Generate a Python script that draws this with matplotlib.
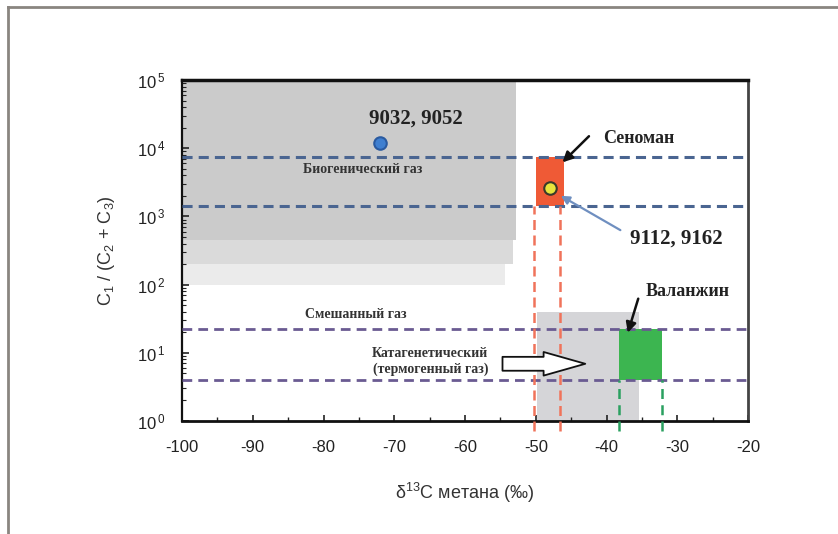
import numpy as np
import matplotlib
matplotlib.use('Agg')
import matplotlib.pyplot as plt
from matplotlib.lines import Line2D

# --- data ---
x_ticks = [-100, -90, -80, -70, -60, -50, -40, -30, -20]
y_ticks = [1e0, 1e1, 1e2, 1e3, 1e4, 1e5]

# biogenic gas zone (grey, lighter towards the bottom)
bio_right = [-52.8, -53.2, -54.3]
bio_low = [450, 200, 100]
bio_high = [1e5, 450, 200]

# catagenic gas zone
cat_x = [-49.8, -35.4]
cat_y = [1, 40]

# horizontal dashed bounds
bio_bounds = [1.4e3, 7.5e3]
thermo_bounds = [4, 22]

# Cenomanian and Valanginian boxes
senoman_x = [-50, -46]
senoman_y = [1.4e3, 7.5e3]
valanzh_x = [-38.2, -32.2]
valanzh_y = [4, 22]

# sample points
pt_bio_x, pt_bio_y = -72, 1.2e4
pt_sen_x, pt_sen_y = -48, 2.6e3

plt.rcParams['font.family'] = ['Liberation Sans', 'DejaVu Sans']
plt.rcParams['mathtext.fontset'] = 'custom'
plt.rcParams['mathtext.rm'] = 'Liberation Sans'
plt.rcParams['mathtext.it'] = 'Liberation Sans'

fig = plt.figure(figsize=(8.38, 5.34), dpi=100)
ax = fig.add_axes([182 / 838, 1 - 421 / 534, 566 / 838, 341 / 534])

ax.set_yscale('log')
ax.set_xlim(-100, -20)
ax.set_ylim(1, 1e5)

# grey zones
bio_colors = ['#cbcbcb', '#dadada', '#ebebeb']
for r, lo, hi, c in zip(bio_right, bio_low, bio_high, bio_colors):
    ax.fill_between([-100, r], lo, hi, color=c, lw=0, zorder=1)
ax.fill_between(cat_x, cat_y[0], cat_y[1], color='#d5d5d8', lw=0, zorder=1)

# coloured boxes
ax.fill_between(senoman_x, senoman_y[0], senoman_y[1], color='#ef5a36', lw=0, zorder=2)
ax.fill_between(valanzh_x, valanzh_y[0], valanzh_y[1], color='#3cb550', lw=0, zorder=2)

# horizontal dashed lines
for yv in bio_bounds:
    ax.plot([-100, -20], [yv, yv], color='#4a6591', lw=2.2,
            ls=(0, (3.3, 2)), zorder=3)
for yv in thermo_bounds:
    ax.plot([-100, -20], [yv, yv], color='#6a5b92', lw=2.0,
            ls=(0, (3.5, 2.2)), zorder=3)

# vertical dashed lines
for xv in [-50.2, -46.6]:
    ax.plot([xv, xv], [0.72, senoman_y[0]], color='#f0735a', lw=1.8,
            ls=(0, (4, 2.2)), zorder=3, clip_on=False)
for xv in valanzh_x:
    ax.plot([xv, xv], [0.72, valanzh_y[0]], color='#2aa060', lw=1.8,
            ls=(0, (4, 2.5)), zorder=3, clip_on=False)

# points
ax.plot(pt_bio_x, pt_bio_y, 'o', ms=9, mfc='#3f7fd0', mec='#2a5aa0', mew=1.5, zorder=5)
ax.plot(pt_sen_x, pt_sen_y, 'o', ms=9, mfc='#e8e43c', mec='#3a3a2a', mew=1.5, zorder=5)

# annotations
serif = ['Liberation Serif', 'DejaVu Serif']
ax.text(-67, 2.7e4, '9032, 9052', family=serif, weight='bold', fontsize=15,
        ha='center', va='center', color='#222222', zorder=6)
ax.text(-74.4, 4.8e3, 'Биогенический газ', family=serif, weight='bold', fontsize=10,
        ha='center', va='center', color='#333333', zorder=6)
ax.text(-35.4, 1.4e4, 'Сеноман', family=serif, weight='bold', fontsize=13,
        ha='center', va='center', color='#222222', zorder=6)
ax.annotate('', xy=(-46.5, 5.8e3), xytext=(-42.2, 1.6e4),
            arrowprops=dict(arrowstyle='-|>,head_length=0.6,head_width=0.3',
                            color='#111111', lw=1.8), zorder=6)
ax.text(-30.1, 480, '9112, 9162', family=serif, weight='bold', fontsize=15,
        ha='center', va='center', color='#222222', zorder=6)
ax.annotate('', xy=(-46.8, 2.1e3), xytext=(-37.7, 600),
            arrowprops=dict(arrowstyle='-|>,head_length=0.5,head_width=0.25',
                            color='#6f8fc0', lw=1.6), zorder=6)
ax.text(-28.6, 80, 'Валанжин', family=serif, weight='bold', fontsize=13,
        ha='center', va='center', color='#222222', zorder=6)
ax.annotate('', xy=(-37.1, 18), xytext=(-35.4, 68),
            arrowprops=dict(arrowstyle='-|>,head_length=0.6,head_width=0.3',
                            color='#111111', lw=1.8), zorder=6)
ax.text(-75.5, 36, 'Смешанный газ', family=serif, weight='bold', fontsize=10,
        ha='center', va='center', color='#333333', zorder=6)
ax.text(-64.9, 7.4, 'Катагенетический\n(термогенный газ)', family=serif,
        weight='bold', fontsize=10, ha='center', va='center', color='#333333',
        linespacing=1.2, zorder=6)
ax.annotate('', xy=(-43, 6.9), xytext=(-54.7, 6.9),
            arrowprops=dict(arrowstyle='simple,head_length=1.5,head_width=0.85,tail_width=0.5',
                            fc='white', ec='#111111', lw=1.3, shrinkA=0, shrinkB=0,
                            mutation_scale=20),
            zorder=6)

# ticks
ax.set_xticks(x_ticks)
ax.set_xticklabels([str(v) for v in x_ticks])
ax.set_xticks(np.arange(-95, -20, 10), minor=True)
ax.set_yticks(y_ticks)
ax.set_yticklabels([r'$10^{\,%d}$' % int(np.log10(v)) for v in y_ticks])
ax.tick_params(axis='both', which='both', direction='in', top=False, right=False,
               colors='#222222', labelsize=12)
ax.tick_params(axis='x', which='major', length=4, width=1.2, pad=14)
ax.tick_params(axis='x', which='minor', length=3, width=1)
ax.tick_params(axis='y', which='major', length=5, width=1.2, pad=12)
ax.tick_params(axis='y', which='minor', length=3, width=0.8)

for side in ['top', 'bottom', 'left']:
    ax.spines[side].set_color('#111111')
ax.spines['top'].set_linewidth(2.5)
ax.spines['bottom'].set_linewidth(2)
ax.spines['left'].set_linewidth(1.6)
ax.spines['right'].set_linewidth(2)
ax.spines['right'].set_color('#444444')

ax.set_xlabel('δ$^{13}$C метана (‰)', fontsize=13, color='#333333', labelpad=18)
ax.set_ylabel('C$_1$ / (C$_2$ + C$_3$)', fontsize=13, color='#333333', labelpad=14)

# outer page frame
fig.add_artist(Line2D([8 / 838, 8 / 838], [0, 1 - 7 / 534], color='#8a8580', lw=2))
fig.add_artist(Line2D([8 / 838, 1], [1 - 7 / 534, 1 - 7 / 534], color='#8a8580', lw=2))

fig.savefig('out.png', dpi=100)
